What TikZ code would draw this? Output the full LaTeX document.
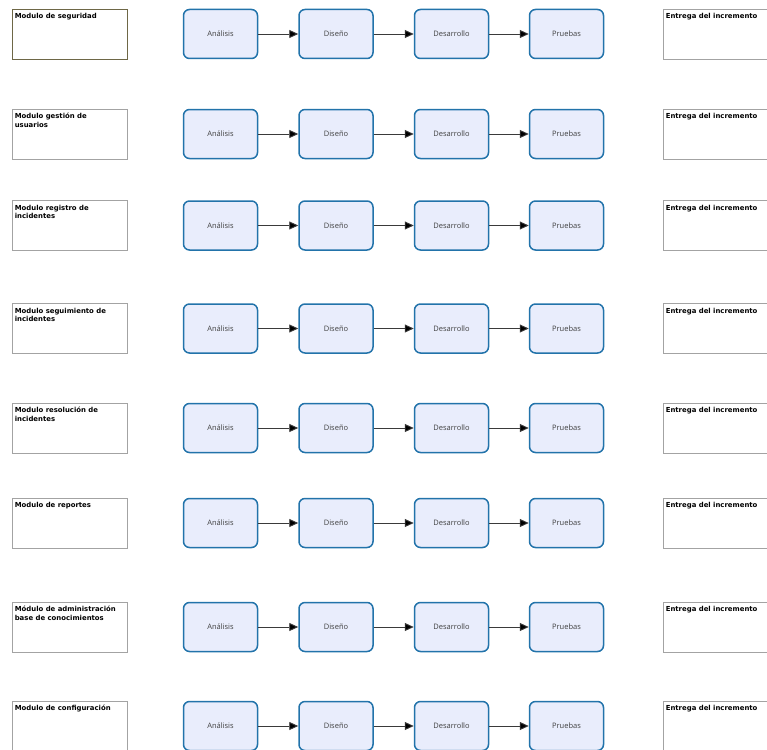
\documentclass[tikz,border=0pt]{standalone}
\usepackage{fontspec}
\setmainfont{DejaVu Sans}
\newfontfamily\procfont{Open Sans}
\usetikzlibrary{arrows.meta, positioning}
\definecolor{procfill}{HTML}{E9EDFC}
\definecolor{procline}{HTML}{2273AA}
\definecolor{boxgray}{HTML}{A3A3A3}
\definecolor{boxolive}{HTML}{6E6746}
\definecolor{arrowgray}{HTML}{3A3A3A}

\tikzset{
  modbox/.style={draw=boxgray, line width=0.8pt, minimum width=115pt, minimum height=50pt, inner sep=0pt},
  modtext/.style={anchor=north west, inner sep=0pt, align=left, font=\fontsize{6.9}{8.5}\selectfont\bfseries},
  procbox/.style={draw=procline, fill=procfill, line width=1.5pt, rounded corners=6pt,
    minimum width=74pt, minimum height=49pt, inner sep=0pt, font=\procfont\fontsize{7.5}{9}\selectfont, text=black!75},
  flow/.style={arrowgray, line width=0.9pt, -{Triangle[length=9pt, width=8pt, fill=black]}}
}

\begin{document}
\begin{tikzpicture}[x=1pt, y=-1pt]
  \useasboundingbox (0,0) rectangle (767,749);

  \foreach \i/\yc/\bc/\txt in {
      1/34/boxolive/{Modulo de seguridad},
      2/134/boxgray/{Modulo gestión de\\usuarios},
      3/225.5/boxgray/{Modulo registro de\\incidentes},
      4/328.5/boxgray/{Modulo seguimiento de\\incidentes},
      5/428/boxgray/{Modulo resolución de\\incidentes},
      6/523/boxgray/{Modulo de reportes},
      7/627/boxgray/{Módulo de administración\\base de conocimientos},
      8/726/boxgray/{Modulo de configuración}} {
    % module column
    \node[modbox, draw=\bc] (mod\i) at (69.5,\yc) {};
    \node[modtext] (modt\i) at ([xshift=3pt, yshift=-4.5pt]mod\i.north west) {\txt};

    % increment steps
    \node[procbox] (ana\i) at (220.5,\yc) {Análisis};
    \node[procbox] (dis\i) at (336,\yc) {Diseño};
    \node[procbox] (des\i) at (451.5,\yc) {Desarrollo};
    \node[procbox] (pru\i) at (566.5,\yc) {Pruebas};

    % delivery column
    \node[modbox] (ent\i) at (720.5,\yc) {};
    \node[modtext] (entt\i) at ([xshift=3pt, yshift=-4.5pt]ent\i.north west) {Entrega del incremento};

    \draw[flow] (ana\i) -- (dis\i);
    \draw[flow] (dis\i) -- (des\i);
    \draw[flow] (des\i) -- (pru\i);
  }
\end{tikzpicture}
\end{document}
